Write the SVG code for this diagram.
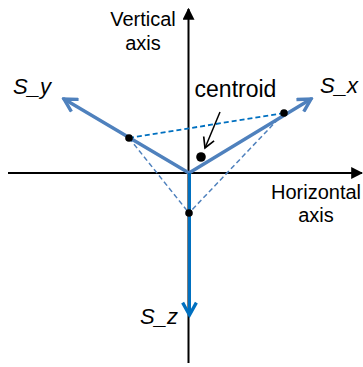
<svg xmlns="http://www.w3.org/2000/svg" width="363" height="367" viewBox="0 0 363 367">
<defs>
<style>
.lbl{font-family:"Liberation Sans",Arial,sans-serif;font-size:20px;fill:#000;text-anchor:middle}
.s{font-family:"Liberation Sans",Arial,sans-serif;font-size:22px;font-style:italic;fill:#000}
.axis{stroke:#000;stroke-width:2;fill:none}
.vec{stroke:#4F81BD;stroke-width:3.4;fill:none;stroke-linecap:round}
.dot{fill:#000}
</style>
<marker id="axArrow" viewBox="0 0 10 10" refX="9" refY="5" markerWidth="6" markerHeight="6" orient="auto" markerUnits="strokeWidth">
<path d="M0,0 L10,5 L0,10 z" fill="#000"/>
</marker>
<marker id="openBlue" viewBox="0 0 12 12" refX="10" refY="6" markerWidth="5" markerHeight="5" orient="auto" markerUnits="strokeWidth">
<path d="M1,1 L10,6 L1,11" fill="none" stroke="#4F81BD" stroke-width="2.4"/>
</marker>
<marker id="openZ" viewBox="0 0 12 12" refX="10" refY="6" markerWidth="5.5" markerHeight="5.5" orient="auto" markerUnits="strokeWidth">
<path d="M1,1 L10,6 L1,11" fill="none" stroke="#0070C0" stroke-width="2.4"/>
</marker>
<marker id="openBlack" viewBox="0 0 12 12" refX="10" refY="6" markerWidth="9" markerHeight="9" orient="auto" markerUnits="strokeWidth">
<path d="M1,1 L10,6 L1,11" fill="none" stroke="#000" stroke-width="1.5"/>
</marker>
</defs>
<rect width="363" height="367" fill="#fff"/>
<g id="connectors">
<line id="v-axis" class="axis" x1="188.5" y1="363" x2="188.5" y2="9" marker-end="url(#axArrow)"/>
<line id="h-axis" class="axis" x1="8" y1="173" x2="362" y2="173" marker-end="url(#axArrow)"/>
<line id="dash-yx" x1="129" y1="138" x2="284" y2="113" stroke="#0070C0" stroke-width="1.8" stroke-dasharray="5,3"/>
<line id="dash-yz" x1="129" y1="138" x2="189" y2="213" stroke="#4F81BD" stroke-width="1.5" stroke-dasharray="5,3"/>
<line id="dash-xz" x1="284" y1="113" x2="189" y2="213" stroke="#4F81BD" stroke-width="1.5" stroke-dasharray="5,3"/>
<line id="vec-x" class="vec" x1="189" y1="173" x2="311" y2="99" marker-end="url(#openBlue)"/>
<line id="vec-y" class="vec" x1="189" y1="173" x2="64" y2="99" marker-end="url(#openBlue)"/>
<line id="vec-z" x1="189.5" y1="173" x2="189.5" y2="315" stroke="#0070C0" stroke-width="3" marker-end="url(#openZ)"/>
<line id="centroid-arrow" x1="220" y1="112" x2="205" y2="148" stroke="#000" stroke-width="1.5" marker-end="url(#openBlack)"/>
</g>
<g id="dot-x"><circle class="dot" cx="284" cy="113" r="3.8"/></g>
<g id="dot-y"><circle class="dot" cx="129" cy="138" r="3.8"/></g>
<g id="dot-z"><circle class="dot" cx="189" cy="213" r="3.8"/></g>
<g id="centroid"><circle class="dot" cx="201" cy="157" r="4.8"/><text x="235.5" y="97" class="lbl" style="font-size:23px">centroid</text></g>
<g id="label-vertical"><text class="lbl" x="143" y="26">Vertical</text><text class="lbl" x="143" y="50">axis</text></g>
<g id="label-horizontal"><text class="lbl" x="316" y="199">Horizontal</text><text class="lbl" x="316" y="222">axis</text></g>
<g id="label-sy"><text class="s" x="13" y="94">S_y</text></g>
<g id="label-sx"><text class="s" x="320" y="93">S_x</text></g>
<g id="label-sz"><text class="s" x="140" y="324">S_z</text></g>
</svg>
